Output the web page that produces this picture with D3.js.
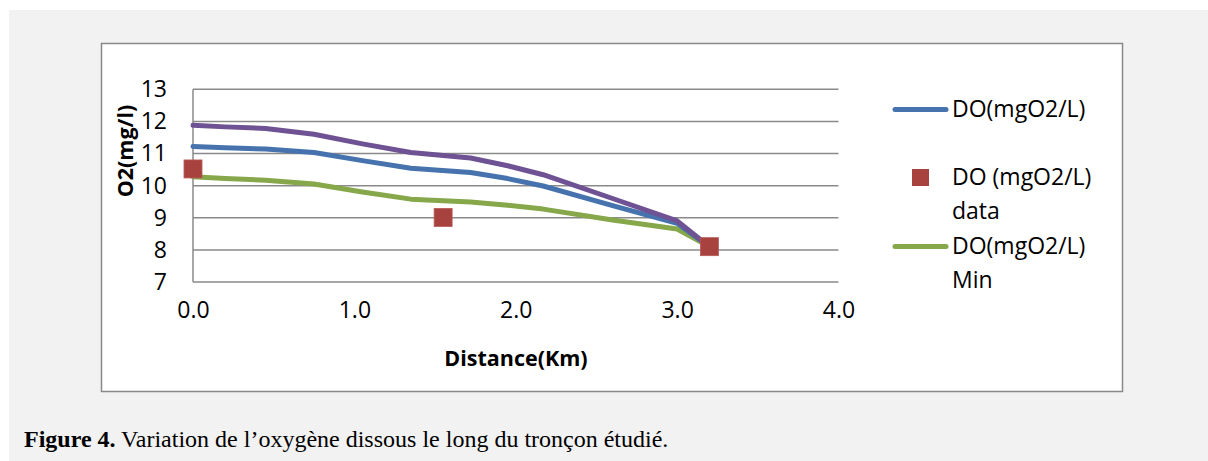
<!DOCTYPE html>
<html>
<head>
<meta charset="utf-8">
<script src="https://cdn.jsdelivr.net/npm/d3@7"></script>
<style>
  html, body { margin: 0; padding: 0; background: #ffffff; }
  svg { display: block; }
</style>
</head>
<body>
<svg id="chart" width="1208" height="461"></svg>
<script>
// ---- data ----
const distances = [0, 0.2, 0.45, 0.75, 1.05, 1.35, 1.72, 1.95, 2.17, 2.6, 3.0, 3.2];
const doMax     = [11.88, 11.83, 11.78, 11.60, 11.30, 11.03, 10.86, 10.62, 10.34, 9.60, 8.90, 8.10];
const doMean    = [11.22, 11.18, 11.14, 11.03, 10.78, 10.54, 10.41, 10.22, 9.99, 9.38, 8.83, 8.10];
const doMin     = [10.28, 10.22, 10.17, 10.05, 9.80, 9.58, 9.49, 9.39, 9.27, 8.93, 8.65, 8.10];
const dataDist  = [0, 1.55, 3.2];
const dataDO    = [10.52, 9.01, 8.10];
const xTicks    = [0, 1, 2, 3, 4];
const yTicks    = [7, 8, 9, 10, 11, 12, 13];
const legendLabels = [["DO(mgO2/L)"], ["DO (mgO2/L)", "data"], ["DO(mgO2/L)", "Min"]];
const xTitle = "Distance(Km)";
const yTitle = "O2(mg/l)";
const captionBold = "Figure 4.";
const captionText = " Variation de l\u2019oxyg\u00e8ne dissous le long du tron\u00e7on \u00e9tudi\u00e9.";

const colors = { max: "#6f5293", mean: "#4673ad", data: "#a8423f", min: "#86a74a" };
const sans = "'Open Sans', 'Noto Sans', sans-serif";

const svg = d3.select("#chart");

// page background
svg.append("rect").attr("x", 9).attr("y", 10).attr("width", 1199).attr("height", 451).attr("fill", "#f2f2f2");

// chart box
svg.append("rect").attr("x", 101.5).attr("y", 43.5).attr("width", 1021).attr("height", 348)
  .attr("fill", "#ffffff").attr("stroke", "#898989").attr("stroke-width", 1.5);

const x = d3.scaleLinear().domain([0, 4]).range([193, 838.5]);
const y = d3.scaleLinear().domain([7, 13]).range([282, 89.3]);

// gridlines
const grid = svg.append("g");
grid.selectAll("line").data(yTicks).join("line")
  .attr("x1", x(0)).attr("x2", x(4))
  .attr("y1", d => y(d)).attr("y2", d => y(d))
  .attr("stroke", "#8a8a8a").attr("stroke-width", 1.5);
// left axis line
svg.append("line").attr("x1", x(0)).attr("x2", x(0)).attr("y1", y(13)).attr("y2", y(7))
  .attr("stroke", "#8a8a8a").attr("stroke-width", 1.5);

// y axis labels
const yAxis = d3.axisLeft(y).tickValues(yTicks).tickSize(0).tickPadding(26).tickFormat(d3.format("d"));
const yg = svg.append("g").attr("transform", `translate(${x(0)},0)`).call(yAxis);
yg.select(".domain").remove();
yg.selectAll("text").attr("font-family", sans).attr("font-size", 23).attr("fill", "#000");

// x axis labels
const xAxis = d3.axisBottom(x).tickValues(xTicks).tickSize(0).tickPadding(20).tickFormat(d3.format(".1f"));
const xg = svg.append("g").attr("transform", `translate(0,${y(7)})`).call(xAxis);
xg.select(".domain").remove();
xg.selectAll("text").attr("font-family", sans).attr("font-size", 23).attr("fill", "#000");

// axis titles
svg.append("text").attr("x", 516).attr("y", 366).attr("text-anchor", "middle")
  .attr("font-family", sans).attr("font-size", 21.5).attr("font-weight", "bold").text(xTitle);
svg.append("text").attr("transform", "translate(133,151) rotate(-90)").attr("text-anchor", "middle")
  .attr("font-family", sans).attr("font-size", 21.5).attr("font-weight", "bold").text(yTitle);

// lines
const line = (vals) => d3.line().x((d, i) => x(distances[i])).y(d => y(d)).curve(d3.curveLinear)(vals);
[[doMin, colors.min], [doMean, colors.mean], [doMax, colors.max]].forEach(([vals, c]) => {
  svg.append("path").attr("d", line(vals)).attr("fill", "none").attr("stroke", c)
    .attr("stroke-width", 5).attr("stroke-linejoin", "round").attr("stroke-linecap", "round");
});

// data markers
const ms = 18;
svg.append("g").selectAll("rect").data(dataDist).join("rect")
  .attr("x", (d) => x(d) - ms / 2).attr("y", (d, i) => y(dataDO[i]) - ms / 2)
  .attr("width", ms).attr("height", ms).attr("fill", colors.data)
  .attr("stroke", "#b85a57").attr("stroke-width", 0.8);

// legend
const lg = svg.append("g");
lg.append("line").attr("x1", 895).attr("x2", 946).attr("y1", 109.5).attr("y2", 109.5)
  .attr("stroke", colors.mean).attr("stroke-width", 5).attr("stroke-linecap", "round");
lg.append("rect").attr("x", 912).attr("y", 169).attr("width", 17).attr("height", 17).attr("fill", colors.data);
lg.append("line").attr("x1", 895).attr("x2", 946).attr("y1", 246.5).attr("y2", 246.5)
  .attr("stroke", colors.min).attr("stroke-width", 5).attr("stroke-linecap", "round");
const legendY = [[109], [177, 210.5], [246, 280]];
legendLabels.forEach((lines, i) => {
  lines.forEach((t, j) => {
    lg.append("text").attr("x", 952).attr("y", legendY[i][j]).attr("dy", "0.35em")
      .attr("font-family", sans).attr("font-size", 23).attr("fill", "#000").text(t);
  });
});

// caption
const cap = svg.append("text").attr("x", 24).attr("y", 447)
  .attr("font-family", "'Liberation Serif', 'Times New Roman', serif").attr("font-size", 24).attr("fill", "#000");
cap.append("tspan").attr("font-weight", "bold").text(captionBold);
cap.append("tspan").text(captionText);
</script>
</body>
</html>
